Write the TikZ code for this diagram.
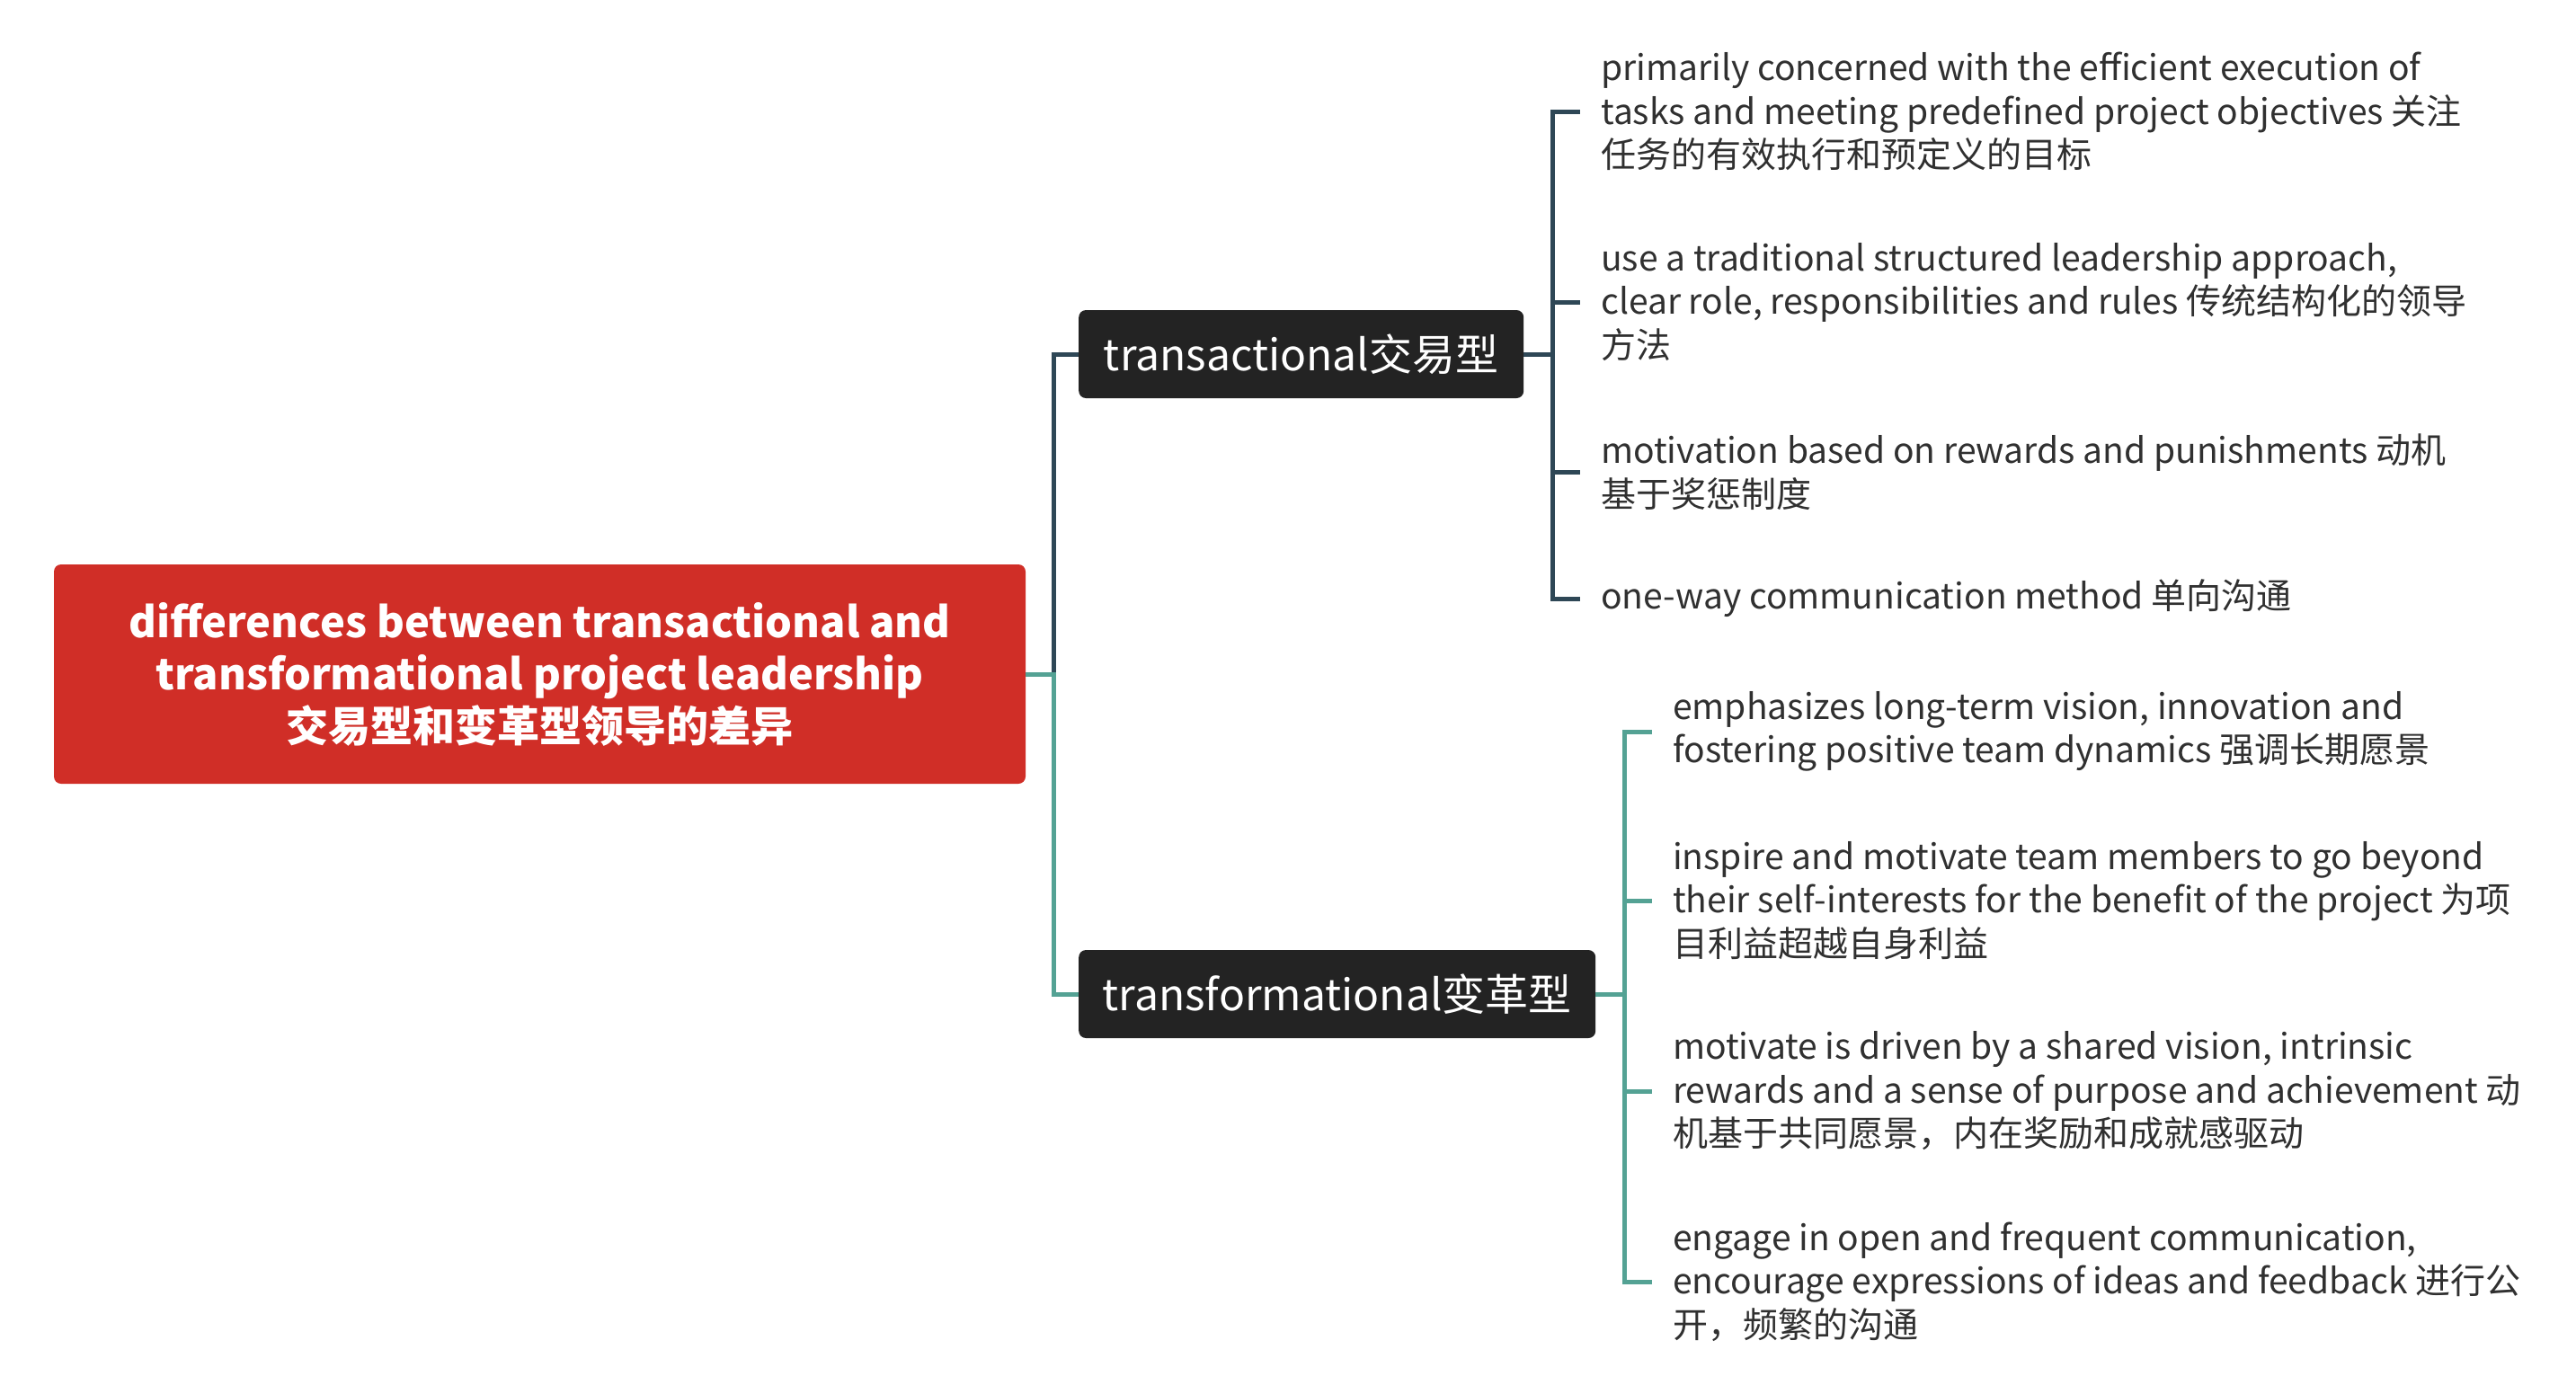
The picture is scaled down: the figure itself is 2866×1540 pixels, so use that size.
\documentclass[tikz,border=0pt]{standalone}
\usepackage{fontspec}
\setmainfont{Noto Sans CJK SC}
\definecolor{rootred}{HTML}{D02E27}
\definecolor{topicdark}{HTML}{232323}
\definecolor{slateline}{HTML}{2E4756}
\definecolor{tealline}{HTML}{54A294}
\definecolor{leafgray}{HTML}{303030}
\begin{document}
\begin{tikzpicture}[x=1pt,y=-1pt,
		rootbox/.style={fill=rootred, rounded corners=8pt, text=white, align=center, inner sep=0pt,
			font=\fontsize{47}{58}\selectfont\bfseries, minimum width=1081pt, minimum height=244pt},
		topicbox/.style={fill=topicdark, rounded corners=8pt, text=white, anchor=west, inner sep=0pt,
			font=\fontsize{48}{58}\selectfont, minimum height=98pt},
		leaf/.style={anchor=west, align=left, text=leafgray, inner xsep=23pt, inner ysep=0pt,
			font=\fontsize{39}{48.5}\selectfont},
		linkA/.style={draw=slateline, line width=5pt},
		linkB/.style={draw=tealline, line width=5pt}]
		\useasboundingbox (0,0) rectangle (2866,1540);
		
		\node[rootbox] (root) at (600.5,750) {differences between transactional and\\transformational project leadership\\交易型和变革型领导的差异};
		
		\node[topicbox, minimum width=495pt] (ta) at (1200,394) {transactional交易型};
		\node[topicbox, minimum width=575pt] (tf) at (1200,1106) {transformational变革型};
		
		\node[leaf] (ta1) at (1758,124) {primarily concerned with the efficient execution of\\tasks and meeting predefined project objectives 关注\\任务的有效执行和预定义的目标};
		\node[leaf] (ta2) at (1758,336) {use a traditional structured leadership approach,\\clear role, responsibilities and rules 传统结构化的领导\\方法};
		\node[leaf] (ta3) at (1758,525) {motivation based on rewards and punishments 动机\\基于奖惩制度};
		\node[leaf] (ta4) at (1758,666) {one-way communication method 单向沟通};
		
		\node[leaf] (tf1) at (1838,814) {emphasizes long-term vision, innovation and\\fostering positive team dynamics 强调长期愿景};
		\node[leaf] (tf2) at (1838,1002) {inspire and motivate team members to go beyond\\their self-interests for the benefit of the project 为项\\目利益超越自身利益};
		\node[leaf] (tf3) at (1838,1214) {motivate is driven by a shared vision, intrinsic\\rewards and a sense of purpose and achievement 动\\机基于共同愿景，内在奖励和成就感驱动};
		\node[leaf] (tf4) at (1838,1426) {engage in open and frequent communication,\\encourage expressions of ideas and feedback 进行公\\开，频繁的沟通};
		
		\draw[linkA] (root.east) -- ++(31,0) |- (ta.west);
		\draw[linkB] (root.east) -- ++(31,0) |- (tf.west);
		
		\foreach \k in {ta1,ta2,ta3,ta4}
		\draw[linkA] (ta.east) -- ++(32,0) |- (\k.west);
		\foreach \k in {tf1,tf2,tf3,tf4}
		\draw[linkB] (tf.east) -- ++(32,0) |- (\k.west);
\end{tikzpicture}
\end{document}
